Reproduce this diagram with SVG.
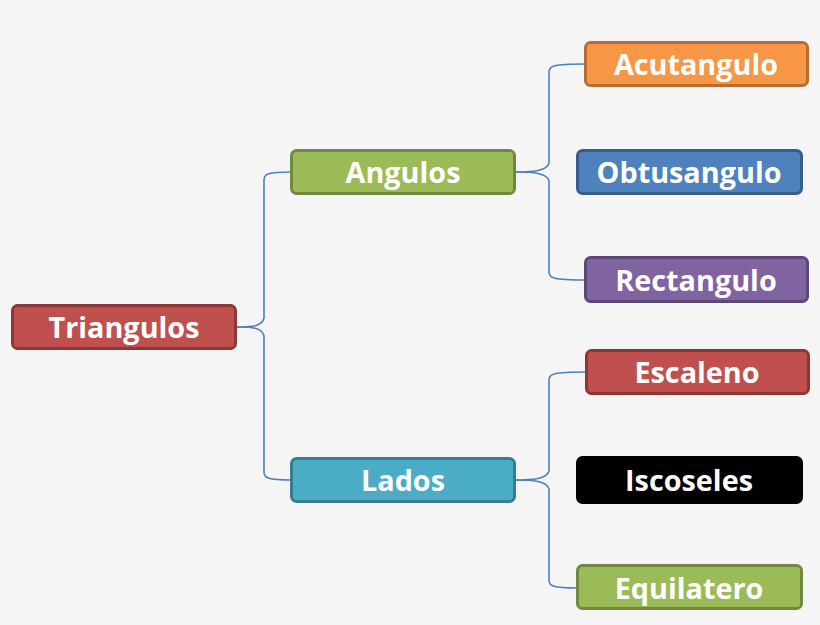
<svg xmlns="http://www.w3.org/2000/svg" width="820" height="625" viewBox="0 0 820 625">
<style>
.box{stroke-width:3}
.lbl{font-family:"Open Sans","Noto Sans",sans-serif;font-weight:bold;font-size:28.8px;fill:#fff;text-anchor:middle;dominant-baseline:central}
.con{fill:none;stroke:#4F81BD;stroke-width:1.6}
</style>
<rect width="820" height="625" fill="#F5F5F5"/>
<g id="connectors">
<path class="con" d="M236,327 C254,327 262,326 264,318 L264,180 C264,174 268,172 291,172"/>
<path class="con" d="M236,327 C254,327 262,328 264,336 L264,472 C264,478 268,480 291,480"/>
<path class="con" d="M515,172 C533,172 547,171 549,163 L549,72 C549,66 553,64 585,64"/>
<path class="con" d="M515,172 C533,172 547,173 549,181 L549,272 C549,278 553,280 585,280"/>
<path class="con" d="M515,480 C533,480 547,479 549,471 L549,380 C549,374 553,372 586,372"/>
<path class="con" d="M515,480 C533,480 547,481 549,489 L549,580 C549,586 553,588 577,588"/>
</g>
<g id="triangulos"><rect class="box" x="12.5" y="305.5" width="223" height="43" rx="5" fill="#C0504D" stroke="#8C3836"/><text class="lbl" x="124" y="326.5">Triangulos</text></g>
<g id="angulos"><rect class="box" x="291.5" y="150.5" width="223" height="43" rx="5" fill="#9BBB59" stroke="#71893F"/><text class="lbl" x="403" y="171.5">Angulos</text></g>
<g id="lados"><rect class="box" x="291.5" y="458.5" width="223" height="43" rx="5" fill="#4BACC6" stroke="#357D91"/><text class="lbl" x="403" y="479.5">Lados</text></g>
<g id="acutangulo"><rect class="box" x="585.5" y="42.5" width="222" height="43" rx="5" fill="#F79646" stroke="#B66D31"/><text class="lbl" x="696" y="63.5">Acutangulo</text></g>
<g id="obtusangulo"><rect class="box" x="577.5" y="150.5" width="224" height="43" rx="5" fill="#4F81BD" stroke="#385D8A"/><text class="lbl" x="689" y="171.5">Obtusangulo</text></g>
<g id="rectangulo"><rect class="box" x="585.5" y="257.5" width="222" height="44" rx="5" fill="#8064A2" stroke="#5C4776"/><text class="lbl" x="696" y="279.5">Rectangulo</text></g>
<g id="escaleno"><rect class="box" x="586.5" y="350.5" width="222" height="43" rx="5" fill="#C0504D" stroke="#8C3836"/><text class="lbl" x="697" y="371.5">Escaleno</text></g>
<g id="iscoseles"><rect class="box" x="577.5" y="457.5" width="224" height="45" rx="5" fill="#000000" stroke="#000000"/><text class="lbl" x="689" y="479.5">Iscoseles</text></g>
<g id="equilatero"><rect class="box" x="577.5" y="565.5" width="224" height="43" rx="5" fill="#9BBB59" stroke="#71893F"/><text class="lbl" x="689" y="587.5">Equilatero</text></g>
</svg>
